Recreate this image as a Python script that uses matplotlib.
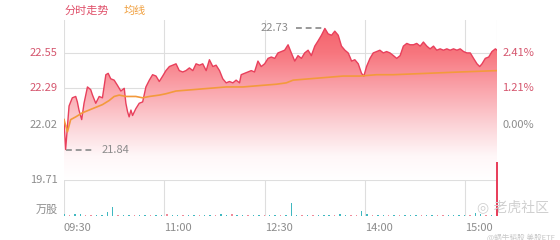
from __future__ import annotations

import matplotlib

matplotlib.use("Agg")
import matplotlib.pyplot as plt
import numpy as np
from matplotlib.colors import LinearSegmentedColormap
from matplotlib.patches import Polygon

plt.rcParams["font.family"] = ["Noto Sans CJK SC", "DejaVu Sans"]

# minutes from the open, and last price at each
price_minutes = [
    0, 0.9, 2.8, 4.6, 6.5, 7.4, 8.3, 9.8, 11.1, 13.0, 14.8, 15.8, 17.6, 19.5, 21.3,
    23.2, 24.5, 25.9, 27.8, 29.7, 31.5, 33.4, 34.3, 35.2, 36.1, 37.1, 38.0, 39.8,
    41.7, 43.6, 45.4, 47.3, 49.1, 51.0, 52.8, 54.7, 56.5, 58.4, 60.2, 62.1, 63.9,
    65.8, 67.6, 69.5, 71.4, 73.2, 75.1, 76.9, 78.8, 80.6, 82.5, 84.3, 86.2, 88.0,
    89.9, 91.7, 93.6, 95.4, 97.3, 98.2, 100.1, 101.9, 103.8, 105.6, 107.5, 109.3,
    111.2, 113.1, 114.9, 116.8, 118.6, 120.5, 122.3, 124.2, 126.0, 127.9, 129.7,
    131.6, 133.4, 135.3, 137.1, 139.0, 140.9, 142.7, 144.6, 146.4, 148.3, 150.1,
    152.0, 153.8, 155.7, 157.5, 158.5, 159.4, 161.2, 163.1, 164.9, 166.2, 167.7,
    169.6, 171.4, 173.3, 175.1, 177.0, 178.8, 180.7, 182.6, 184.4, 186.3, 188.1,
    190.0, 191.8, 193.7, 195.5, 197.4, 199.2, 201.1, 202.9, 204.8, 206.6, 208.5,
    210.3, 212.2, 214.0, 215.9, 217.8, 219.6, 221.5, 223.3, 225.2, 227.0, 228.9,
    230.4, 231.7, 233.5, 235.4, 237.2, 239.1, 240.0,
]
prices = [
    22.06, 21.84, 22.16, 22.22, 22.23, 22.19, 22.13, 22.06, 22.18, 22.30, 22.28, 22.24,
    22.18, 22.23, 22.22, 22.39, 22.40, 22.36, 22.35, 22.31, 22.27, 22.29, 22.18, 22.12,
    22.08, 22.13, 22.09, 22.14, 22.18, 22.19, 22.30, 22.35, 22.39, 22.38, 22.34, 22.38,
    22.42, 22.45, 22.46, 22.47, 22.42, 22.41, 22.42, 22.44, 22.42, 22.47, 22.46, 22.47,
    22.42, 22.50, 22.45, 22.46, 22.42, 22.36, 22.33, 22.34, 22.33, 22.35, 22.33, 22.39,
    22.40, 22.41, 22.42, 22.41, 22.49, 22.45, 22.47, 22.51, 22.52, 22.51, 22.55, 22.56,
    22.57, 22.61, 22.55, 22.49, 22.53, 22.51, 22.55, 22.57, 22.53, 22.60, 22.64, 22.68,
    22.73, 22.69, 22.68, 22.71, 22.68, 22.60, 22.57, 22.55, 22.52, 22.49, 22.50, 22.47,
    22.40, 22.38, 22.45, 22.51, 22.55, 22.56, 22.57, 22.55, 22.56, 22.55, 22.53, 22.51,
    22.53, 22.60, 22.62, 22.61, 22.61, 22.62, 22.60, 22.63, 22.60, 22.58, 22.60, 22.57,
    22.58, 22.57, 22.58, 22.57, 22.58, 22.57, 22.58, 22.56, 22.55, 22.55, 22.51, 22.47,
    22.45, 22.47, 22.51, 22.52, 22.56, 22.58, 22.57,
]

avg_minutes = [
    0, 1.9, 3.7, 6.5, 10.2, 13.9, 17.6, 21.3, 25.0, 27.8, 30.6, 34.3, 39.8, 43.6, 47.3,
    52.8, 56.5, 62.1, 71.4, 80.6, 89.9, 99.2, 108.4, 117.7, 123.2, 127.0, 136.2, 145.5,
    154.7, 164.0, 173.3, 182.6, 201.1, 219.6, 240.0,
]
avg_prices = [
    22.06, 21.97, 22.06, 22.08, 22.11, 22.13, 22.15, 22.17, 22.20, 22.23, 22.24, 22.23,
    22.23, 22.22, 22.23, 22.24, 22.25, 22.27, 22.28, 22.29, 22.30, 22.30, 22.31, 22.32,
    22.33, 22.35, 22.36, 22.37, 22.38, 22.38, 22.39, 22.39, 22.40, 22.41, 22.42,
]

# volume in 万股, one bar every 3 minutes; 'u' = up minute (red), 'd' = down (teal)
vol_minutes = list(range(0, 241, 3))
volumes = [
    1.0, 0.8, 1.1, 0.9, 0.6, 0.5, 0.4, 0.5, 2.0, 5.0, 0.6, 0.4, 0.3, 0.4, 0.3, 0.3,
    0.4, 0.3, 0.3, 1.0, 0.4, 0.3, 0.3, 0.3, 0.4, 0.3, 0.3, 0.3, 0.3, 1.2, 0.4, 1.0,
    0.4, 0.3, 0.3, 0.3, 0.3, 0.8, 0.3, 0.3, 0.3, 0.4, 7.0, 0.6, 0.3, 0.3, 0.3, 0.3,
    0.3, 0.3, 0.3, 1.0, 0.3, 0.3, 0.3, 3.0, 1.2, 0.4, 0.3, 0.3, 0.3, 0.3, 0.3, 0.3,
    0.3, 0.6, 0.3, 0.3, 0.3, 0.3, 0.3, 0.3, 0.3, 0.3, 0.3, 0.8, 1.5, 1.0, 0.8, 0.6,
    29.6,
]
vol_dirs = (
    "dudduudddduddudd"
    "uddudduddudduddu"
    "ddudduddudddudud"
    "ddudduudduddudud"
    "ddudduudddduddud"
    "u"
)

prev_close = 22.02
price_ticks = [22.55, 22.29, 22.02]
pct_labels = ["2.41%", "1.21%", "0.00%"]
vol_max = 19.71
time_ticks = [0, 55.6, 111.2, 166.8, 222.4]
time_labels = ["09:30", "11:00", "12:30", "14:00", "15:00"]
high_label, low_label = "22.73", "21.84"

RED = "#e8405c"
ORANGE = "#f39a3c"
TEAL = "#3fb8c0"
GRID = "#dedede"
GREY = "#8c8c8c"
PINK_TXT = "#d5566e"


def draw_price(ax):
    y_lo, y_hi = 21.616, 22.792
    ax.set_xlim(0, 240)
    ax.set_ylim(y_lo, y_hi)

    verts = np.column_stack(
        [
            np.r_[price_minutes, price_minutes[::-1]],
            np.r_[prices, np.full(len(prices), y_lo)],
        ]
    )
    poly = Polygon(verts, closed=True, facecolor="none", edgecolor="none")
    ax.add_patch(poly)
    cmap = LinearSegmentedColormap.from_list(
        "fill",
        [
            (0.0, "#ffffff"),
            (0.15, "#fff7f8"),
            (0.343, "#fcd3d7"),
            (0.573, "#faa4ab"),
            (0.794, "#f7767e"),
            (1.0, "#f45e68"),
        ],
    )
    grad = np.linspace(0, 1, 256).reshape(-1, 1)
    im = ax.imshow(grad, extent=[0, 240, y_lo, y_hi], origin="lower", aspect="auto",
                   cmap=cmap, vmin=0, vmax=1, zorder=1)
    im.set_clip_path(poly)

    for t in time_ticks + [240]:
        ax.axvline(t, color=GRID, lw=0.8, zorder=0.5)
    for p in price_ticks:
        ax.axhline(p, color=GRID, lw=0.8, zorder=0.5)

    ax.plot(price_minutes, prices, color=RED, lw=1.0, zorder=3)
    ax.plot(avg_minutes, avg_prices, color=ORANGE, lw=1.2, zorder=4)

    # high / low markers
    i_hi = int(np.argmax(prices))
    i_lo = int(np.argmin(prices))
    t_hi, t_lo = price_minutes[i_hi], price_minutes[i_lo]
    ax.plot([t_hi - 16, t_hi], [prices[i_hi]] * 2, color="#999999", lw=1.4,
            dashes=(3, 2), zorder=5, clip_on=False)
    ax.text(t_hi - 20, prices[i_hi], high_label, color=GREY, fontsize=8,
            ha="right", va="center", zorder=5)
    ax.plot([t_lo, t_lo + 16], [prices[i_lo]] * 2, color="#999999", lw=1.4,
            dashes=(3, 2), zorder=5, clip_on=False)
    ax.text(t_lo + 20, prices[i_lo], low_label, color=GREY, fontsize=8,
            ha="left", va="center", zorder=5)

    for p, pct in zip(price_ticks, pct_labels):
        col = GREY if p == prev_close else PINK_TXT
        ax.text(-3.5, p, f"{p:.2f}", color=col, fontsize=8, ha="right", va="center")
        ax.text(243, p, pct, color=col, fontsize=8, ha="left", va="center")

    for s in ax.spines.values():
        s.set_visible(False)
    ax.set_xticks([])
    ax.set_yticks([])


def draw_volume(ax):
    ax.set_xlim(0, 240)
    ax.set_ylim(0, vol_max)
    for t in time_ticks + [240]:
        ax.axvline(t, color=GRID, lw=0.8, zorder=0.5)
    ax.axhline(vol_max, color=GRID, lw=0.8, zorder=0.5)
    colors = ["#f08a9a" if d == "u" else TEAL for d in vol_dirs]
    bars = ax.bar(vol_minutes, volumes, width=0.8, color=colors, linewidth=0, zorder=2)
    bars[-1].set_color(RED)
    bars[-1].set_clip_on(False)
    ax.axhline(0.05, color="#e8b0b8", lw=0.6, zorder=1)

    ax.text(-3.5, vol_max, f"{vol_max:.2f}", color=GREY, fontsize=8, ha="right", va="center")
    ax.text(-3.5, 0.5, "万股", color=GREY, fontsize=8, ha="right", va="bottom")
    for t, lab in zip(time_ticks, time_labels):
        ax.text(t, -3.6, lab, color=GREY, fontsize=8, ha="left", va="top")

    for s in ax.spines.values():
        s.set_visible(False)
    ax.set_xticks([])
    ax.set_yticks([])


def main() -> int:
    fig = plt.figure(figsize=(5.6, 2.4), dpi=100)
    ax_p = fig.add_axes([64 / 560, 1 - 180 / 240, 433 / 560, 160 / 240])
    ax_v = fig.add_axes([64 / 560, 1 - 216 / 240, 433 / 560, 36 / 240])
    draw_price(ax_p)
    draw_volume(ax_v)

    fig.text(65 / 560, 1 - 11 / 240, "分时走势", color="#e0506a", fontsize=8, va="center")
    fig.text(124 / 560, 1 - 11 / 240, "均线", color="#f0a040", fontsize=8, va="center")

    fig.text(549 / 560, 1 - 207 / 240, "◎ 老虎社区", color="#d0d0d0", fontsize=10,
             ha="right", va="center", family=["DejaVu Sans", "Noto Sans CJK SC"])
    fig.text(555 / 560, 1 - 237 / 240, "@蜗牛韬股 美股ETF", color="#c8c8c8", fontsize=5.5,
             ha="right", va="center")

    fig.savefig("out.png", dpi=100)
    plt.close(fig)
    return 0


if __name__ == "__main__":
    raise SystemExit(main())
